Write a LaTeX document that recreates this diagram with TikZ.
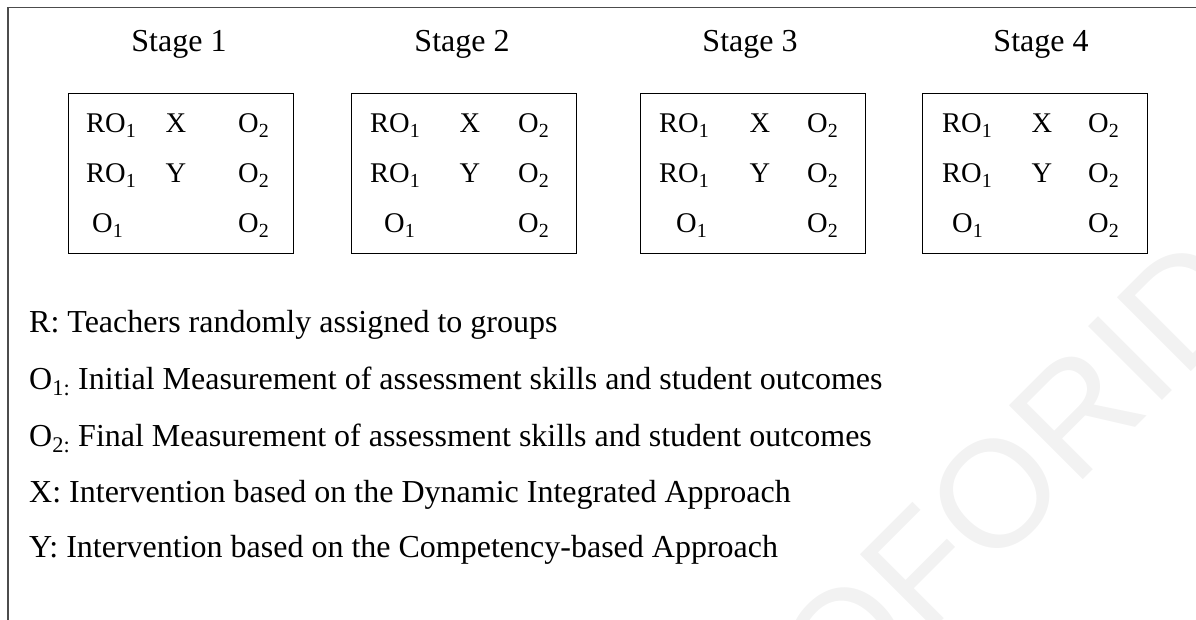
\documentclass[tikz,border=0pt]{standalone}
\usepackage{fontspec}
\setmainfont{Liberation Serif}
\newfontfamily\wmfamily{Liberation Sans}
\definecolor{framegray}{gray}{0.30}
\definecolor{wmgray}{gray}{0.95}
\begin{document}
\begin{tikzpicture}[x=1pt,y=-1pt,
  stagelbl/.style={inner sep=0pt, anchor=base, font=\fontsize{32}{38}\selectfont},
  legendline/.style={inner sep=0pt, anchor=base west, font=\fontsize{32}{38}\selectfont},
  cell/.style={inner sep=0pt, anchor=base west, font=\fontsize{28.5}{34}\selectfont},
  midcell/.style={cell, anchor=base},
  designbox/.style={draw=black, line width=1.1pt, minimum width=225pt,
    minimum height=160pt, inner sep=0pt, anchor=north west},
  outerframe/.style={draw=framegray, line width=1.8pt},
  watermark/.style={rotate=45, anchor=base west, inner sep=0pt, text=wmgray,
    font=\wmfamily\fontsize{152}{152}\selectfont}]
\useasboundingbox (0,0) rectangle (1196,620);

% faint watermark behind everything
\begin{scope}
  \clip (0,0) rectangle (1196,620);
  \node[watermark] (wm) at (841.5,721.5) {OFORID};
\end{scope}

% open frame: left and top sides
\coordinate (fbl) at (8,620);
\coordinate (ftl) at (8,7.5);
\coordinate (ftr) at (1196,7.5);
\draw[outerframe] (fbl) -- (ftl) -- (ftr);

% stage titles
\node[stagelbl] (st1) at (179,52)  {Stage 1};
\node[stagelbl] (st2) at (462,52)  {Stage 2};
\node[stagelbl] (st3) at (750,52)  {Stage 3};
\node[stagelbl] (st4) at (1041,52) {Stage 4};

% one design box per stage: box x, RO column, X/Y centre, O2 column, O1 column
\foreach \n/\bx/\ro/\xx/\oo/\oi in {1/68/86/176/238/92,
    2/351/370/470/518/384, 3/640/659/760/807/676, 4/922/942/1042/1088/952}{
  \node[designbox] (box\n) at (\bx,93) {};
  \node[cell]    (ra\n) at (\ro,133) {RO\textsubscript{1}};
  \node[midcell] (xa\n) at (\xx,133) {X};
  \node[cell]    (oa\n) at (\oo,133) {O\textsubscript{2}};
  \node[cell]    (rb\n) at (\ro,183) {RO\textsubscript{1}};
  \node[midcell] (yb\n) at (\xx,183) {Y};
  \node[cell]    (ob\n) at (\oo,183) {O\textsubscript{2}};
  \node[cell]    (pc\n) at (\oi,233) {O\textsubscript{1}};
  \node[cell]    (oc\n) at (\oo,233) {O\textsubscript{2}};
}

% legend
\node[legendline] (leg1) at (29,332) {R: Teachers randomly assigned to groups};
\node[legendline] (leg2) at (29,389) {O\textsubscript{1:} Initial Measurement of assessment skills and student outcomes};
\node[legendline] (leg3) at (29,446) {O\textsubscript{2:} Final Measurement of assessment skills and student outcomes};
\node[legendline] (leg4) at (29,502) {X: Intervention based on the Dynamic Integrated Approach};
\node[legendline] (leg5) at (29,557) {Y: Intervention based on the Competency-based Approach};
\end{tikzpicture}
\end{document}
